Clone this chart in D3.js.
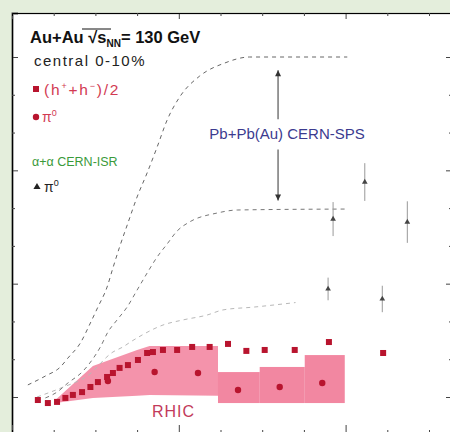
<!DOCTYPE html>
<html><head><meta charset="utf-8">
<script src="https://cdn.jsdelivr.net/npm/d3@7"></script>
<style>
html,body{margin:0;padding:0;background:#fff;}
svg{display:block;font-family:"Liberation Sans",Arial,Helvetica,sans-serif;}
</style></head><body>
<svg id="chart" width="450" height="432"></svg>
<script>
// Nuclear modification factor vs pT, central Au+Au at 130 GeV

// charged hadrons (h+ + h-)/2
const hadronPt = [0.31, 0.43, 0.54, 0.64, 0.73, 0.84, 0.94, 1.03, 1.14, 1.21, 1.29, 1.39, 1.51, 1.62, 1.69, 1.81, 1.98, 2.16, 2.37, 2.59, 2.81, 3.03, 3.39, 3.80, 4.45];
const hadronR  = [0.584, 0.568, 0.574, 0.595, 0.611, 0.626, 0.653, 0.679, 0.706, 0.727, 0.754, 0.769, 0.796, 0.833, 0.838, 0.849, 0.849, 0.865, 0.865, 0.881, 0.844, 0.849, 0.849, 0.891, 0.833];

// neutral pions
const pi0Pt = [1.15, 1.71, 2.23, 2.71, 3.21, 3.72];
const pi0R  = [0.685, 0.732, 0.727, 0.637, 0.653, 0.674];

// systematic band, continuous part
const bandPt = [0.52, 0.97, 1.50, 1.65, 2.47];
const bandLo = [0.568, 0.595, 0.606, 0.611, 0.606];
const bandHi = [0.584, 0.764, 0.849, 0.870, 0.870];

// systematic band, binned part
const binPtLo = [2.47, 2.97, 3.51];
const binPtHi = [2.97, 3.51, 3.99];
const binRLo  = [0.568, 0.568, 0.568];
const binRHi  = [0.732, 0.759, 0.822];

// Pb+Pb(Au) CERN-SPS, upper curve
const spsUpperPt = [0.19, 0.40, 0.58, 0.67, 0.82, 0.94, 1.03, 1.14, 1.21, 1.29, 1.39, 1.50, 1.62, 1.74, 1.86, 2.01, 2.25, 2.55, 2.85, 4.02];
const spsUpperR  = [0.664, 0.711, 0.759, 0.806, 0.886, 0.992, 1.076, 1.182, 1.283, 1.394, 1.521, 1.659, 1.786, 1.923, 2.066, 2.188, 2.299, 2.368, 2.400, 2.400];

// Pb+Pb(Au) CERN-SPS, lower curve
const spsLowerPt = [0.40, 0.54, 0.67, 0.84, 0.96, 1.06, 1.15, 1.26, 1.38, 1.50, 1.62, 1.74, 1.86, 1.98, 2.13, 2.46, 2.70, 3.99];
const spsLowerR  = [0.595, 0.626, 0.674, 0.732, 0.796, 0.865, 0.944, 1.008, 1.076, 1.166, 1.256, 1.341, 1.410, 1.479, 1.527, 1.574, 1.590, 1.595];

// alpha+alpha CERN-ISR reference curve
const isrPt = [0.30, 0.60, 0.90, 1.21, 1.33, 1.42, 1.56, 1.81, 2.05, 2.34, 2.53, 2.90, 3.40];
const isrR  = [0.600, 0.650, 0.710, 0.838, 0.865, 0.891, 0.928, 0.981, 1.008, 1.034, 1.061, 1.076, 1.100];

// alpha+alpha CERN-ISR pi0 points
const isrPi0Pt  = [3.79, 4.44, 3.85, 4.23, 4.74];
const isrPi0R   = [1.172, 1.119, 1.542, 1.738, 1.526];
const isrPi0Err = [0.06, 0.07, 0.09, 0.10, 0.11];

// axis ticks
const xMajor = [0, 2, 4];
const xMinor = [0.5, 1, 1.5, 2.5, 3, 3.5, 4.5, 5];
const yMajor = [0.6, 1.2, 1.8, 2.4];
const yMinor = [0.8, 1.0, 1.4, 1.6, 2.0, 2.2];

// SPS spread arrow (pT position, R ends, gap for the label)
const arrowPt = 3.19;
const arrowR = [2.33, 2.07, 1.91, 1.64];

const svg = d3.select("#chart");
const W = 450, H = 432;

const x = d3.scaleLinear().domain([0, 5.25]).range([12, 449.85]);
const y = d3.scaleLinear().domain([0.6, 2.4]).range([397, 57]);

const edgeL = 12, edgeT = 13, edgeR = 452, edgeB = 434;
const xA = x.copy().domain([x.invert(edgeL), x.invert(edgeR)]).range([edgeL, edgeR]);
const yA = y.copy().domain([y.invert(edgeB), y.invert(edgeT)]).range([edgeB, edgeT]);

// page background frame
svg.append("rect").attr("width", W).attr("height", H).attr("fill", "#e4eedc");
svg.append("rect").attr("x", edgeL).attr("y", edgeT).attr("width", edgeR - edgeL).attr("height", edgeB - edgeT).attr("fill", "#ffffff");

const plot = svg.append("g");

// systematic band
const area = d3.area()
  .x((d, i) => x(bandPt[i]))
  .y0((d, i) => y(bandLo[i]))
  .y1((d, i) => y(bandHi[i]));
plot.append("path").datum(bandPt).attr("d", area)
  .attr("fill", "#f2809c").attr("opacity", 0.85);
plot.selectAll("rect.bin").data(binPtLo).join("rect").attr("class", "bin")
  .attr("x", (d, i) => x(binPtLo[i]))
  .attr("width", (d, i) => x(binPtHi[i]) - x(binPtLo[i]))
  .attr("y", (d, i) => y(binRHi[i]))
  .attr("height", (d, i) => y(binRLo[i]) - y(binRHi[i]))
  .attr("fill", "#f07290").attr("opacity", 0.85);

// reference curves
const line = (px, py) => d3.line().x((d, i) => x(px[i])).y((d, i) => y(py[i])).curve(d3.curveMonotoneX)(px);
plot.append("path").attr("d", line(isrPt, isrR)).attr("fill", "none")
  .attr("stroke", "#b8b8b8").attr("stroke-width", 1).attr("stroke-dasharray", "4,4");
plot.append("path").attr("d", line(spsLowerPt, spsLowerR)).attr("fill", "none")
  .attr("stroke", "#777").attr("stroke-width", 1).attr("stroke-dasharray", "4,4");
plot.append("path").attr("d", line(spsUpperPt, spsUpperR)).attr("fill", "none")
  .attr("stroke", "#666").attr("stroke-width", 1).attr("stroke-dasharray", "4,4");

// ISR pi0 points with error bars
plot.selectAll("line.err").data(isrPi0Pt).join("line").attr("class", "err")
  .attr("x1", (d, i) => x(isrPi0Pt[i])).attr("x2", (d, i) => x(isrPi0Pt[i]))
  .attr("y1", (d, i) => y(isrPi0R[i] - isrPi0Err[i])).attr("y2", (d, i) => y(isrPi0R[i] + isrPi0Err[i]))
  .attr("stroke", "#999").attr("stroke-width", 1);
plot.selectAll("path.isr").data(isrPi0Pt).join("path").attr("class", "isr")
  .attr("transform", (d, i) => `translate(${x(isrPi0Pt[i])},${y(isrPi0R[i])})`)
  .attr("d", d3.symbol(d3.symbolTriangle, 14)).attr("fill", "#444");

// RHIC data
const red = "#b8142e";
plot.selectAll("rect.had").data(hadronPt).join("rect").attr("class", "had")
  .attr("x", (d, i) => x(hadronPt[i]) - 3).attr("y", (d, i) => y(hadronR[i]) - 3)
  .attr("width", 6).attr("height", 6).attr("fill", red);
plot.selectAll("circle.pi0").data(pi0Pt).join("circle").attr("class", "pi0")
  .attr("cx", (d, i) => x(pi0Pt[i])).attr("cy", (d, i) => y(pi0R[i]))
  .attr("r", 3.2).attr("fill", red);

// SPS spread arrow
const ax0 = x(arrowPt);
const head = (yy, dir) => `M${ax0},${yy} l-3,${6 * dir} l6,0 z`;
[[arrowR[0], arrowR[1]], [arrowR[2], arrowR[3]]].forEach(([a, b]) => {
  plot.append("line").attr("x1", ax0).attr("x2", ax0).attr("y1", y(a)).attr("y2", y(b))
    .attr("stroke", "#555").attr("stroke-width", 1.2);
});
plot.append("path").attr("d", head(y(arrowR[0]), 1)).attr("fill", "#333");
plot.append("path").attr("d", head(y(arrowR[3]), -1)).attr("fill", "#333");

plot.append("text").attr("x", ax0 + 9).attr("y", 139).attr("text-anchor", "middle")
  .attr("font-size", 15).attr("fill", "#3b3b8f").text("Pb+Pb(Au) CERN-SPS");

plot.append("text").attr("x", 152).attr("y", 417).attr("font-size", 16).attr("fill", "#c23a5a")
  .attr("letter-spacing", 1).text("RHIC");

// axes
function ax(gen, tr, scale, vals, size) {
  const g = svg.append("g").attr("transform", tr)
    .call(gen(scale).tickValues(vals).tickSize(-size).tickFormat(""));
  g.selectAll("line").attr("stroke", "#444");
  return g;
}
const axL = ax(d3.axisLeft, `translate(${edgeL},0)`, yA, yMajor, 6);
ax(d3.axisLeft, `translate(${edgeL},0)`, yA, yMinor, 3);
axL.select(".domain").attr("stroke", "#333").attr("stroke-width", 1.8);
ax(d3.axisRight, `translate(${edgeR},0)`, yA, yMajor, 6);
ax(d3.axisRight, `translate(${edgeR},0)`, yA, yMinor, 3);
const axT = ax(d3.axisTop, `translate(0,${edgeT})`, xA, xMajor, 6);
ax(d3.axisTop, `translate(0,${edgeT})`, xA, xMinor, 3);
axT.select(".domain").attr("stroke", "#999").attr("stroke-width", 1.6);
ax(d3.axisBottom, `translate(0,${edgeB})`, xA, xMajor, 9);
ax(d3.axisBottom, `translate(0,${edgeB})`, xA, xMinor, 4);
svg.selectAll(".domain").attr("fill", "none");

// legend
const lg = svg.append("g");
const t1 = lg.append("text").attr("x", 30).attr("y", 43).attr("font-size", 16.5).attr("font-weight", "bold").attr("fill", "#111");
t1.append("tspan").text("Au+Au \u221A");
t1.append("tspan").text("s");
t1.append("tspan").attr("font-size", 10).attr("dy", 4).text("NN");
t1.append("tspan").attr("dy", -4).text("= 130 GeV");
lg.append("line").attr("x1", 82).attr("x2", 111).attr("y1", 29).attr("y2", 29).attr("stroke", "#111").attr("stroke-width", 1);

lg.append("text").attr("x", 34).attr("y", 66).attr("font-size", 15).attr("letter-spacing", 1.5).attr("fill", "#222").text("central 0-10%");

lg.append("rect").attr("x", 33).attr("y", 86).attr("width", 6).attr("height", 6).attr("fill", red);
const t3 = lg.append("text").attr("x", 44).attr("y", 95).attr("font-size", 15.5).attr("letter-spacing", 1.8).attr("fill", "#d23a52");
t3.append("tspan").text("(h");
t3.append("tspan").attr("font-size", 9).attr("dy", -6).text("+");
t3.append("tspan").attr("dy", 6).text("+h");
t3.append("tspan").attr("font-size", 9).attr("dy", -6).text("\u2212");
t3.append("tspan").attr("dy", 6).text(")/2");

lg.append("circle").attr("cx", 36).attr("cy", 117).attr("r", 3.2).attr("fill", red);
const t4 = lg.append("text").attr("x", 42).attr("y", 122).attr("font-size", 14).attr("fill", "#d23a52");
t4.append("tspan").text("\u03C0");
t4.append("tspan").attr("font-size", 9).attr("dy", -6).text("0");

lg.append("text").attr("x", 32).attr("y", 166).attr("font-size", 12.5).attr("fill", "#3a9a3a").text("\u03B1+\u03B1 CERN-ISR");

lg.append("path").attr("transform", "translate(37,187)").attr("d", d3.symbol(d3.symbolTriangle, 22)).attr("fill", "#222");
const t5 = lg.append("text").attr("x", 44).attr("y", 192).attr("font-size", 14).attr("fill", "#222");
t5.append("tspan").text("\u03C0");
t5.append("tspan").attr("font-size", 9).attr("dy", -6).text("0");
</script>
</body></html>
